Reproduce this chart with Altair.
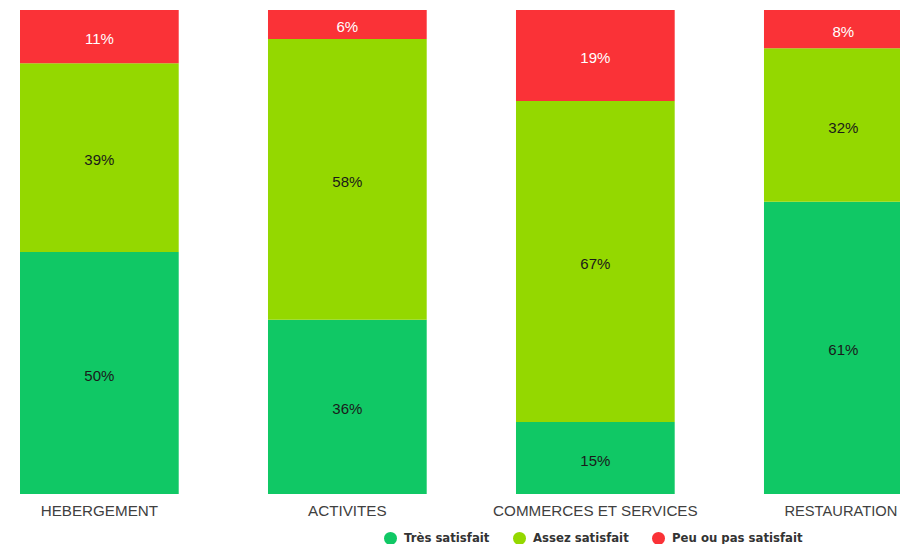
import altair as alt
import pandas as pd

categories = ["HEBERGEMENT", "ACTIVITES", "COMMERCES ET SERVICES", "RESTAURATION"]
series = ["Très satisfait", "Assez satisfait", "Peu ou pas satisfait"]
tres = [50, 36, 15, 61]
assez = [39, 58, 67, 32]
peu = [11, 6, 19, 8]
colors = ["#10C865", "#94D800", "#FA3237"]
text_colors = ["#1a1a1a", "#1a1a1a", "#ffffff"]

rows = []
for s_i, (s, vals) in enumerate(zip(series, [tres, assez, peu])):
    for c, v in zip(categories, vals):
        rows.append({"cat": c, "serie": s, "value": v, "ord": s_i,
                     "label": f"{v}%", "tc": text_colors[s_i]})
df = pd.DataFrame(rows)

last_test = "datum.value == 'RESTAURATION'"
xscale = alt.Scale(domain=categories, range=[12, 914.7], paddingInner=0.36, paddingOuter=0)
xenc = alt.X("cat:N", sort=categories, scale=xscale,
             axis=alt.Axis(title=None, domain=False, ticks=False, labelAngle=0,
                           labelFont="Liberation Sans",
                           labelFontSize={"condition": {"test": last_test, "value": 14.7}, "value": 15.2},
                           labelOffset={"condition": {"test": last_test, "value": -2.5}, "value": 0},
                           labelColor="#404040", labelPadding=9, labelLimit=400))

base = alt.Chart(df).transform_stack(
    stack="value", groupby=["cat"], as_=["y0", "y1"], offset="normalize",
    sort=[alt.SortField("ord", order="ascending")]
).transform_calculate(mid="(datum.y0 + datum.y1) / 2")

bars = base.mark_bar(clip=True).encode(
    x=xenc,
    y=alt.Y("y0:Q", scale=alt.Scale(domain=[0, 1]), axis=None),
    y2="y1:Q",
    color=alt.Color("serie:N", sort=series,
                    scale=alt.Scale(domain=series, range=colors),
                    legend=alt.Legend(title=None, orient="none", direction="horizontal",
                                      legendX=376, legendY=521.5,
                                      symbolType="circle", symbolSize=169,
                                      symbolStrokeWidth=0, symbolOpacity=1,
                                      labelFont="DejaVu Sans", labelFontWeight="bold",
                                      labelFontSize=11.7, labelColor="#333333",
                                      labelOffset=7, columnPadding=23)),
)

texts = base.mark_text(font="Liberation Sans", fontSize=15, dy=2.5, clip=True).encode(
    x=alt.X("cat:N", sort=categories, scale=xscale),
    y=alt.Y("mid:Q", scale=alt.Scale(domain=[0, 1])),
    text="label:N",
    color=alt.Color("tc:N", scale=None),
)

chart = alt.layer(bars, texts).properties(
    width=892, height=484, background="white",
    autosize=alt.AutoSizeParams(type="none"),
    padding={"top": 2, "left": 0, "right": 0, "bottom": 50},
).configure_view(stroke=None)

chart.save("out.html", embed_options={"renderer": "svg", "actions": False})
